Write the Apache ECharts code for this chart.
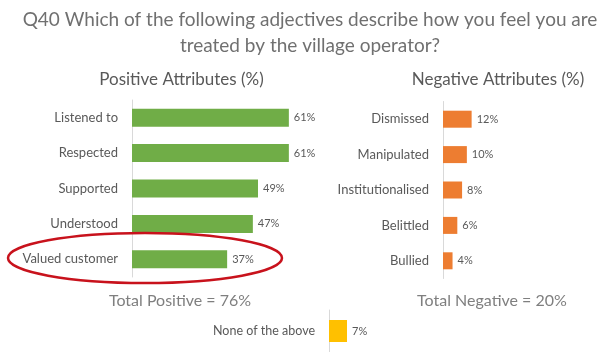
<!DOCTYPE html>
<html>
<head>
<meta charset="utf-8">
<script src="https://cdn.jsdelivr.net/npm/echarts@6/dist/echarts.min.js"></script>
<style>
    html, body { margin: 0; padding: 0; background: #fff; }
    #chart { width: 610px; height: 352px; }
</style>
</head>
<body>
<div id="chart"></div>
<script>
// data
const posCats = ['Listened to', 'Respected', 'Supported', 'Understood', 'Valued customer'];
const posVals = [61, 61, 49, 47, 37];
const negCats = ['Dismissed', 'Manipulated', 'Institutionalised', 'Belittled', 'Bullied'];
const negVals = [12, 10, 8, 6, 4];
const noneCats = ['None of the above'];
const noneVals = [7];

const font = 'Lato';
const txt = '#595959';
const axisGray = '#d9d9d9';

const chart = echarts.init(document.getElementById('chart'));

function xAx(idx){
    return { gridIndex: idx, type: 'value', min: 0, max: 70, show: false };
}
function yAx(idx, cats, size){
    return {
        gridIndex: idx, type: 'category', data: cats, inverse: true,
        axisLine: { show: true, lineStyle: { color: axisGray, width: 1 } },
        axisTick: { show: false },
        axisLabel: { color: txt, fontSize: size, fontFamily: font, margin: 14 }
    };
}
function barSeries(idx, vals, color, width){
    return {
        type: 'bar', xAxisIndex: idx, yAxisIndex: idx, data: vals,
        barWidth: width, itemStyle: { color: color },
        label: {
            show: true, position: 'right', distance: 5,
            formatter: '{c}%', color: txt, fontSize: 11, fontFamily: font
        },
        silent: true
    };
}

chart.setOption({
    animation: false,
    title: [{
        text: 'Q40 Which of the following adjectives describe how you feel you are\ntreated by the village operator?',
        left: 305, top: 2,
        textAlign: 'center',
        textStyle: { color: '#707070', fontSize: 19, fontWeight: 'normal', fontFamily: font, lineHeight: 26, align: 'center' }
    }, {
        text: 'Positive Attributes (%)',
        left: 176.5, top: 66, textAlign: 'center',
        textStyle: { color: txt, fontSize: 17, fontWeight: 'normal', fontFamily: font }
    }, {
        text: 'Negative Attributes (%)',
        left: 493, top: 66, textAlign: 'center',
        textStyle: { color: txt, fontSize: 17, fontWeight: 'normal', fontFamily: font }
    }, {
        text: 'Total Positive = 76%',
        left: 175, top: 288, textAlign: 'center',
        textStyle: { color: '#7f7f7f', fontSize: 16, fontWeight: 'normal', fontFamily: font }
    }, {
        text: 'Total Negative = 20%',
        left: 487, top: 288, textAlign: 'center',
        textStyle: { color: '#7f7f7f', fontSize: 16, fontWeight: 'normal', fontFamily: font }
    }],
    grid: [
        { left: 132, top: 100, width: 180, height: 177 },
        { left: 443, top: 101.5, width: 180, height: 177 },
        { left: 329, top: 310, width: 180, height: 44 }
    ],
    xAxis: [xAx(0), xAx(1), xAx(2)],
    yAxis: [yAx(0, posCats, 13), yAx(1, negCats, 13), yAx(2, noneCats, 12.5)],
    series: [
        barSeries(0, posVals, '#70ad47', 18),
        barSeries(1, negVals, '#ed7d31', 17),
        barSeries(2, noneVals, '#ffc000', 22)
    ],
    graphic: [{
        type: 'ellipse',
        shape: { cx: 145, cy: 258, rx: 137, ry: 25 },
        style: { fill: null, stroke: '#c8121c', lineWidth: 2.5 },
        z: 100
    }]
});
</script>
</body>
</html>
